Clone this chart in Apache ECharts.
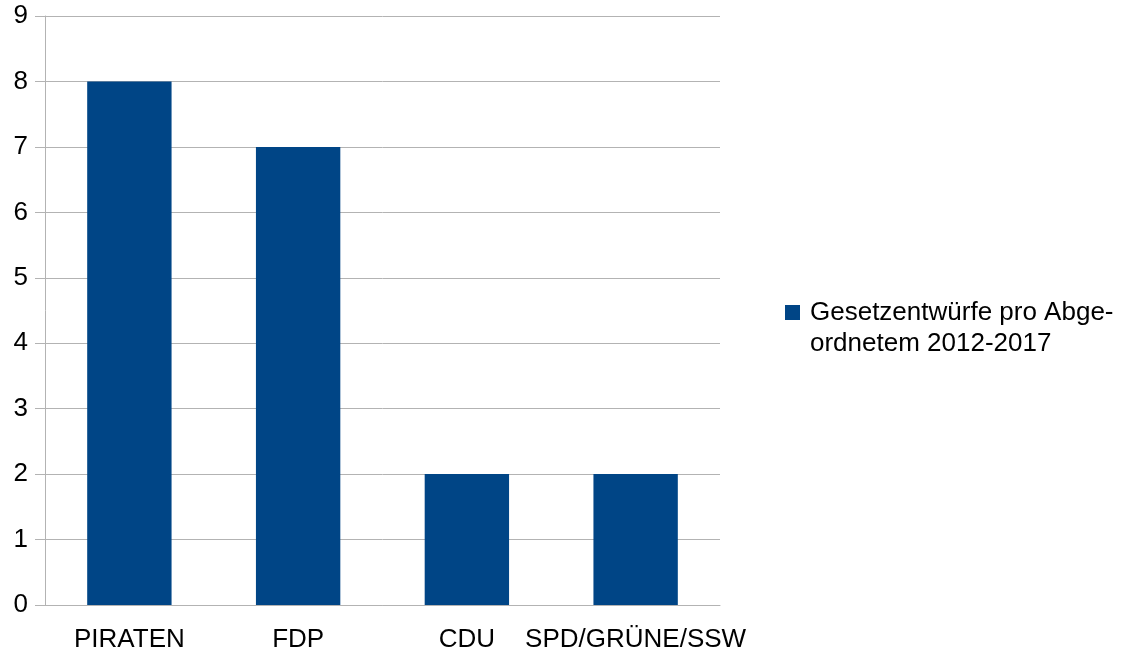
<!DOCTYPE html>
<html lang="de">
<head>
    <meta charset="UTF-8">
    <title>Gesetzentwürfe</title>
    <script src="https://cdn.jsdelivr.net/npm/echarts@6/dist/echarts.min.js"></script>
</head>
<style>
    body { margin: 0; padding: 0; background: #fff; }
    #main { width: 1121px; height: 655px; }
</style>
<body>
<div id="main"></div>
<script type="text/javascript">
    // Daten
    var parteien = ['PIRATEN', 'FDP', 'CDU', 'SPD/GRÜNE/SSW'];
    var werte = [8, 7, 2, 2];
    var serienName = 'Gesetzentwürfe pro Abge-\nordnetem 2012-2017';

    var myChart = echarts.init(document.getElementById('main'));
    var schrift = 'Liberation Sans, Arial, sans-serif';
    var option = {
        animation: false,
        grid: { left: 45, right: 401, top: 16, bottom: 50 },
        legend: {
            left: 780,
            top: 261,
            itemWidth: 15,
            itemHeight: 15,
            icon: 'rect',
            data: [serienName],
            // leere erste Zeile, damit das Symbol auf Höhe der ersten Textzeile steht
            formatter: function (name) { return ' \n' + name; },
            textStyle: {
                fontFamily: schrift,
                fontSize: 26,
                lineHeight: 31,
                color: '#000',
                padding: [0, 0, 0, 5]
            }
        },
        xAxis: {
            type: 'category',
            data: parteien,
            axisLine: { lineStyle: { color: '#b3b3b3' } },
            axisTick: { length: 10, lineStyle: { color: '#b3b3b3' } },
            axisLabel: { color: '#000', fontSize: 26, fontFamily: schrift, margin: 22, interval: 0 }
        },
        yAxis: {
            type: 'value',
            min: 0,
            max: 9,
            interval: 1,
            axisLine: { show: true, lineStyle: { color: '#b3b3b3' } },
            axisTick: { show: true, length: 10, lineStyle: { color: '#b3b3b3' } },
            splitLine: { lineStyle: { color: '#b3b3b3' } },
            axisLabel: { color: '#000', fontSize: 26, fontFamily: schrift, margin: 17 }
        },
        series: [{
            name: serienName,
            type: 'bar',
            data: werte,
            barWidth: '50%',
            itemStyle: { color: '#004586' }
        }]
    };
    myChart.setOption(option);
</script>
</body>
</html>
